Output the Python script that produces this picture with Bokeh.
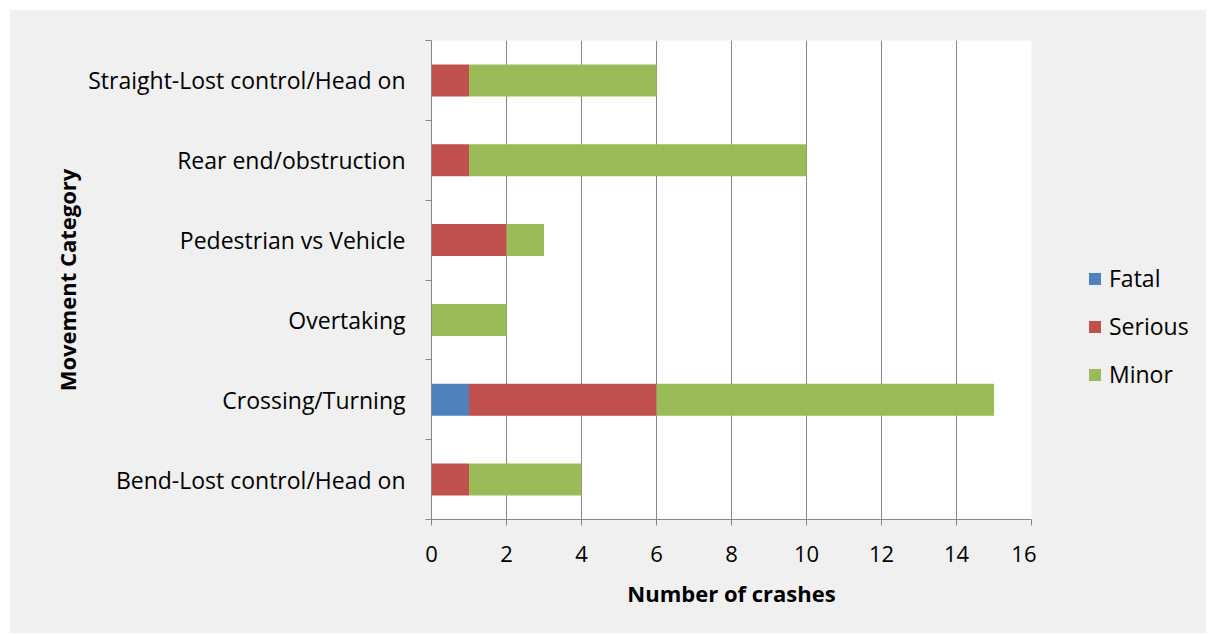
from bokeh.plotting import figure
from bokeh.models import ColumnDataSource, FixedTicker, Legend, LegendItem, Range1d
from bokeh.layouts import row
from bokeh.embed import file_html
from bokeh.resources import INLINE

categories = ["Bend-Lost control/Head on", "Crossing/Turning", "Overtaking",
              "Pedestrian vs Vehicle", "Rear end/obstruction", "Straight-Lost control/Head on"]
fatal = [0, 1, 0, 0, 0, 0]
serious = [1, 5, 0, 2, 1, 1]
minor = [3, 9, 2, 1, 9, 5]
series = ["Fatal", "Serious", "Minor"]
colors = ["#4f81bd", "#c0504d", "#9bbb59"]
x_ticks = [0, 2, 4, 6, 8, 10, 12, 14, 16]

FONT = "Open Sans"
BG = "#f0f0f0"
ys = [i + 0.5 for i in range(len(categories))]
src = ColumnDataSource(dict(y=ys, Fatal=fatal, Serious=serious, Minor=minor))

p = figure(width=1026, height=623, output_backend="svg", toolbar_location=None,
           x_range=Range1d(0, 16), y_range=Range1d(0, 6),
           min_border_left=421, min_border_right=5, min_border_top=30, min_border_bottom=114)
p.border_fill_color = BG
p.background_fill_color = "white"
p.outline_line_color = None

renderers = p.hbar_stack(series, y="y", height=0.4, color=colors, line_color=None, source=src)

# x axis
p.xaxis.ticker = FixedTicker(ticks=x_ticks)
p.xaxis.axis_line_color = "#868686"
p.xaxis.major_tick_line_color = "#868686"
p.xaxis.major_tick_out = 6
p.xaxis.major_tick_in = 0
p.xaxis.minor_tick_line_color = None
p.xaxis.major_label_text_font = FONT
p.xaxis.major_label_text_font_size = "22px"
p.xaxis.major_label_text_color = "black"
p.xaxis.major_label_standoff = 20
p.xaxis.axis_label = "Number of crashes"
p.xaxis.axis_label_text_font = FONT
p.xaxis.axis_label_text_font_size = "22px"
p.xaxis.axis_label_text_font_style = "bold"
p.xaxis.axis_label_text_color = "black"
p.xaxis.axis_label_standoff = 13

# y axis
p.yaxis.ticker = FixedTicker(ticks=ys, minor_ticks=list(range(len(categories) + 1)))
p.yaxis.major_label_overrides = {y: c for y, c in zip(ys, categories)}
p.yaxis.axis_line_color = "#868686"
p.yaxis.major_tick_line_color = None
p.yaxis.major_tick_out = 0
p.yaxis.major_tick_in = 0
p.yaxis.minor_tick_line_color = "#868686"
p.yaxis.minor_tick_out = 6
p.yaxis.minor_tick_in = 0
p.yaxis.major_label_text_font = FONT
p.yaxis.major_label_text_font_size = "23px"
p.yaxis.major_label_text_color = "black"
p.yaxis.major_label_standoff = 20
p.yaxis.axis_label = "Movement Category"
p.yaxis.axis_label_text_font = FONT
p.yaxis.axis_label_text_font_size = "22px"
p.yaxis.axis_label_text_font_style = "bold"
p.yaxis.axis_label_text_color = "black"
p.yaxis.axis_label_standoff = 3

p.xgrid.ticker = FixedTicker(ticks=x_ticks)
p.xgrid.grid_line_color = "#878787"
p.xgrid.grid_line_width = 1
p.ygrid.grid_line_color = None

# legend panel
q = figure(width=170, height=623, output_backend="svg", toolbar_location=None,
           x_range=Range1d(0, 1), y_range=Range1d(0, 1),
           x_axis_location=None, y_axis_location=None,
           min_border_left=0, min_border_right=0, min_border_top=0, min_border_bottom=0)
q.border_fill_color = BG
q.background_fill_color = BG
q.outline_line_color = None
q.xgrid.grid_line_color = None
q.ygrid.grid_line_color = None
zero_width = ColumnDataSource(dict(y=[0.5], left=[0], right=[0]))
dummies = [q.hbar(y="y", left="left", right="right", height=0.4, color=c, line_color=None,
                  source=zero_width) for c in colors]

legend = Legend(items=[LegendItem(label=s, renderers=[r]) for s, r in zip(series, dummies)],
                location=(51, 129), margin=0, padding=0,
                glyph_width=15, glyph_height=15, label_height=24, spacing=16,
                label_standoff=7, background_fill_alpha=0, border_line_color=None,
                label_text_font=FONT, label_text_font_size="23px", label_text_color="black")
q.add_layout(legend, "center")

layout = row(p, q, spacing=0, margin=(10, 2, 2, 10), styles={"background-color": BG})
open("out.html", "w").write(file_html(layout, INLINE))
